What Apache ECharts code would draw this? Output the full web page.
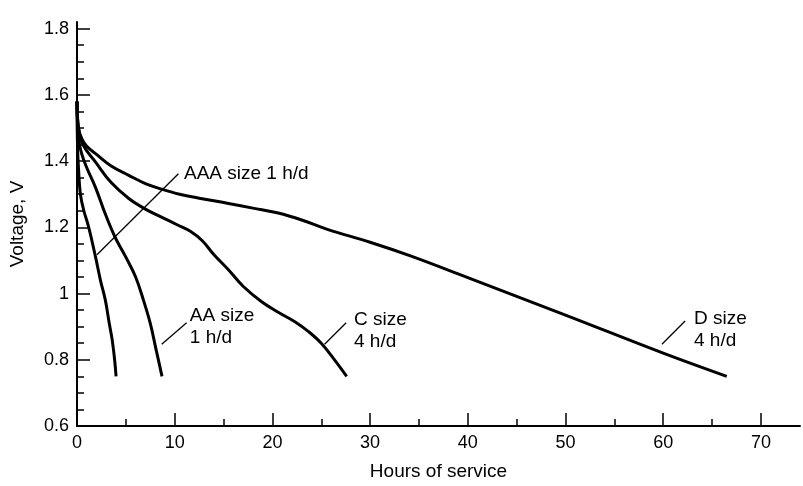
<!DOCTYPE html>
<html>
<head>
<meta charset="utf-8">
<script src="https://cdn.jsdelivr.net/npm/echarts@6/dist/echarts.min.js"></script>
<style>
html,body{margin:0;padding:0;background:#fff;}
#chart{width:803px;height:486px;}
</style>
</head>
<body>
<div id="chart"></div>
<script>
// Discharge curves: hours of service vs voltage
const aaaX = [0, 0.05, 0.15, 0.35, 0.7, 1.2, 1.9, 2.4, 2.9, 3.3, 3.6, 3.85, 4.0];
const aaaV = [1.58, 1.45, 1.38, 1.30, 1.25, 1.2, 1.11, 1.04, 0.98, 0.91, 0.86, 0.8, 0.75];

const aaX = [0, 0.15, 0.5, 1.0, 1.9, 2.9, 3.9, 5.0, 6.0, 6.8, 7.5, 8.1, 8.7];
const aaV = [1.58, 1.47, 1.42, 1.38, 1.32, 1.24, 1.17, 1.11, 1.05, 0.98, 0.91, 0.83, 0.75];

const cX = [0, 0.15, 0.6, 1.9, 3.5, 5.3, 7.0, 8.7, 10.3, 11.6, 12.8, 14.0, 15.5, 17.0, 18.9, 20.5, 22.3, 23.7, 25.0, 26.3, 27.6];
const cV = [1.58, 1.5, 1.45, 1.397, 1.335, 1.287, 1.255, 1.23, 1.207, 1.188, 1.16, 1.118, 1.072, 1.022, 0.975, 0.945, 0.915, 0.885, 0.85, 0.802, 0.75];

const dX = [0, 0.15, 0.5, 1.0, 2.0, 3.5, 5.3, 7.0, 8.7, 10.5, 12.5, 15.5, 18.0, 20.6, 23.0, 25.7, 30.0, 34.2, 40.0, 50.0, 60.0, 66.5];
const dV = [1.58, 1.5, 1.467, 1.445, 1.42, 1.385, 1.357, 1.332, 1.315, 1.30, 1.288, 1.272, 1.258, 1.243, 1.222, 1.193, 1.155, 1.113, 1.048, 0.935, 0.82, 0.75];

// annotations
const labelTexts = ['AAA size 1 h/d', 'AA size\n1 h/d', 'C size\n4 h/d', 'D size\n4 h/d'];
const labelX = [10.9, 11.5, 28.3, 63.1];
const labelV = [1.362, 0.9, 0.888, 0.891];
const leaderX0 = [2.04, 8.67, 25.34, 59.87];
const leaderV0 = [1.117, 0.847, 0.847, 0.847];
const leaderX1 = [10.38, 11.22, 27.55, 62.24];
const leaderV1 = [1.362, 0.912, 0.912, 0.917];

// axis ticks
const xMajor = [0, 10, 20, 30, 40, 50, 60, 70];
const xMinor = [5, 15, 25, 35, 45, 55, 65];
const yMajor = [0.6, 0.8, 1.0, 1.2, 1.4, 1.6, 1.8];
const yMinor = [0.65, 0.7, 0.75, 0.85, 0.9, 0.95, 1.05, 1.1, 1.15, 1.25, 1.3, 1.35, 1.45, 1.5, 1.55, 1.65, 1.7, 1.75];

const FONT = '"Liberation Sans", Arial, Helvetica, sans-serif';
const zip = (xs, ys) => xs.map((x, i) => [x, ys[i]]);

const curveSeries = [[aaaX, aaaV], [aaX, aaV], [cX, cV], [dX, dV]].map(([xs, ys]) => ({
  type: 'line',
  data: zip(xs, ys),
  smooth: 0.4,
  showSymbol: false,
  symbol: 'none',
  lineStyle: { color: '#000', width: 3 },
  silent: true,
  z: 3
}));

const leaderSeries = leaderX0.map((x0, i) => ({
  type: 'line',
  data: [[x0, leaderV0[i]], [leaderX1[i], leaderV1[i]]],
  showSymbol: false,
  symbol: 'none',
  lineStyle: { color: '#000', width: 1.3 },
  silent: true,
  z: 3
}));

const labelSeries = {
  type: 'scatter',
  symbolSize: 1,
  itemStyle: { opacity: 0 },
  silent: true,
  data: labelX.map((x, i) => ({ value: [x, labelV[i]], name: labelTexts[i] })),
  label: {
    show: true,
    position: 'right',
    distance: 0,
    formatter: p => p.name,
    color: '#000',
    opacity: 1,
    textBorderWidth: 0,
    fontFamily: FONT,
    fontSize: 19,
    lineHeight: 22,
    align: 'left',
    verticalAlign: 'middle'
  }
};

const chart = echarts.init(document.getElementById('chart'), null, { renderer: 'canvas' });
chart.setOption({
  animation: false,
  backgroundColor: '#fff',
  grid: { left: 75, right: 3, top: 22, bottom: 57, containLabel: false },
  xAxis: [{
    type: 'value', min: 0, max: 74, interval: 10, position: 'bottom',
    name: 'Hours of service', nameLocation: 'middle', nameGap: 36,
    nameTextStyle: { color: '#000', fontFamily: FONT, fontSize: 19 },
    axisLine: { show: true, lineStyle: { color: '#000', width: 2 } },
    axisTick: { show: true, inside: true, length: 13, customValues: xMajor, lineStyle: { color: '#000', width: 1.5 } },
    axisLabel: { show: true, customValues: xMajor, color: '#000', fontFamily: FONT, fontSize: 18, margin: 8 },
    splitLine: { show: false }
  }, {
    type: 'value', min: 0, max: 74, position: 'bottom',
    axisLine: { show: false },
    axisTick: { show: true, inside: true, length: 7, customValues: xMinor, lineStyle: { color: '#000', width: 1.5 } },
    axisLabel: { show: false },
    splitLine: { show: false }
  }],
  yAxis: [{
    type: 'value', min: 0.6, max: 1.82, interval: 0.2, position: 'left',
    name: 'Voltage, V', nameLocation: 'middle', nameGap: 50, nameRotate: 90,
    nameTextStyle: { color: '#000', fontFamily: FONT, fontSize: 19 },
    axisLine: { show: true, lineStyle: { color: '#000', width: 2 } },
    axisTick: { show: true, inside: true, length: 13, customValues: yMajor, lineStyle: { color: '#000', width: 1.5 } },
    axisLabel: { show: true, customValues: yMajor, color: '#000', fontFamily: FONT, fontSize: 18, margin: 8,
      formatter: v => (Math.abs(v - 1) < 1e-9 ? '1' : v.toFixed(1)) },
    splitLine: { show: false }
  }, {
    type: 'value', min: 0.6, max: 1.82, position: 'left',
    axisLine: { show: false },
    axisTick: { show: true, inside: true, length: 7, customValues: yMinor, lineStyle: { color: '#000', width: 1.5 } },
    axisLabel: { show: false },
    splitLine: { show: false }
  }],
  series: [...curveSeries, ...leaderSeries, labelSeries]
});
</script>
</body>
</html>
